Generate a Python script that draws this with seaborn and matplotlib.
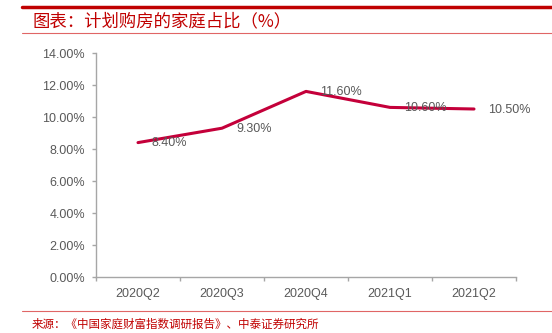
import matplotlib
matplotlib.use("Agg")
import matplotlib.pyplot as plt
import seaborn as sns
import pandas as pd
from matplotlib.lines import Line2D
from matplotlib.ticker import FuncFormatter, FixedLocator

quarters = ["2020Q2", "2020Q3", "2020Q4", "2021Q1", "2021Q2"]
share = [8.40, 9.30, 11.60, 10.60, 10.50]
labels = ["8.40%", "9.30%", "11.60%", "10.60%", "10.50%"]

title_text = "图表：计划购房的家庭占比（%）"
source_text = "来源：《中国家庭财富指数调研报告》、中泰证券研究所"

sns.set_theme(style="white")
plt.rcParams['font.family'] = ['Liberation Sans', 'Noto Sans CJK SC', 'DejaVu Sans']

df = pd.DataFrame({"quarter": quarters, "share": share})

fig = plt.figure(figsize=(5.52, 3.33), dpi=100)
ax = fig.add_axes([96/552, 1 - 277/333, 420/552, 224/333])

line_color = "#C4003A"
gray = "#595959"
sns.lineplot(data=df, x="quarter", y="share", ax=ax, color=line_color, linewidth=2.2, sort=False)

for i, (v, lab) in enumerate(zip(share, labels)):
    ax.annotate(lab, (i, v), xytext=(10, -0.5), textcoords="offset points",
                ha="left", va="center", fontsize=9, color=gray)

ax.set_xlim(-0.5, 4.5)
ax.set_ylim(0, 14)
ax.set_yticks([0, 2, 4, 6, 8, 10, 12, 14])
ax.yaxis.set_major_formatter(FuncFormatter(lambda v, p: f"{v:.2f}%"))
ax.set_xticks(range(len(quarters)))
ax.set_xticklabels(quarters)
ax.xaxis.set_minor_locator(FixedLocator([i - 0.5 for i in range(len(quarters) + 1)]))
ax.set_xlabel("")
ax.set_ylabel("")

for s in ["top", "right"]:
    ax.spines[s].set_visible(False)
for s in ["left", "bottom"]:
    ax.spines[s].set_color("#A6A6A6")
    ax.spines[s].set_linewidth(1.0)

ax.tick_params(axis="y", which="major", direction="out", length=3, width=1, color="#A6A6A6",
               labelsize=9, labelcolor=gray, pad=5, left=True)
ax.tick_params(axis="x", which="major", length=0, labelsize=9, labelcolor=gray, pad=8, bottom=True)
ax.tick_params(axis="x", which="minor", direction="out", length=3, width=1, color="#A6A6A6", bottom=True)

red = "#C00000"
fig.add_artist(Line2D([22/552, 1.0], [1 - 7/333, 1 - 7/333], color=red, linewidth=2.5))
fig.add_artist(Line2D([22/552, 1.0], [1 - 33/333, 1 - 33/333], color="#E06666", linewidth=0.8))
fig.add_artist(Line2D([22/552, 1.0], [1 - 311/333, 1 - 311/333], color="#E06666", linewidth=0.8))

fig.text(32/552, 1 - 21/333, title_text, fontsize=12.5, color=red, fontweight="medium",
         ha="left", va="center", family=['Noto Sans CJK SC', 'DejaVu Sans'], style="italic")
fig.text(32/552, 1 - 324/333, source_text, fontsize=8.3, color=red,
         ha="left", va="center", family=['Noto Sans CJK SC', 'DejaVu Sans'])

fig.savefig("out.png", dpi=100)
